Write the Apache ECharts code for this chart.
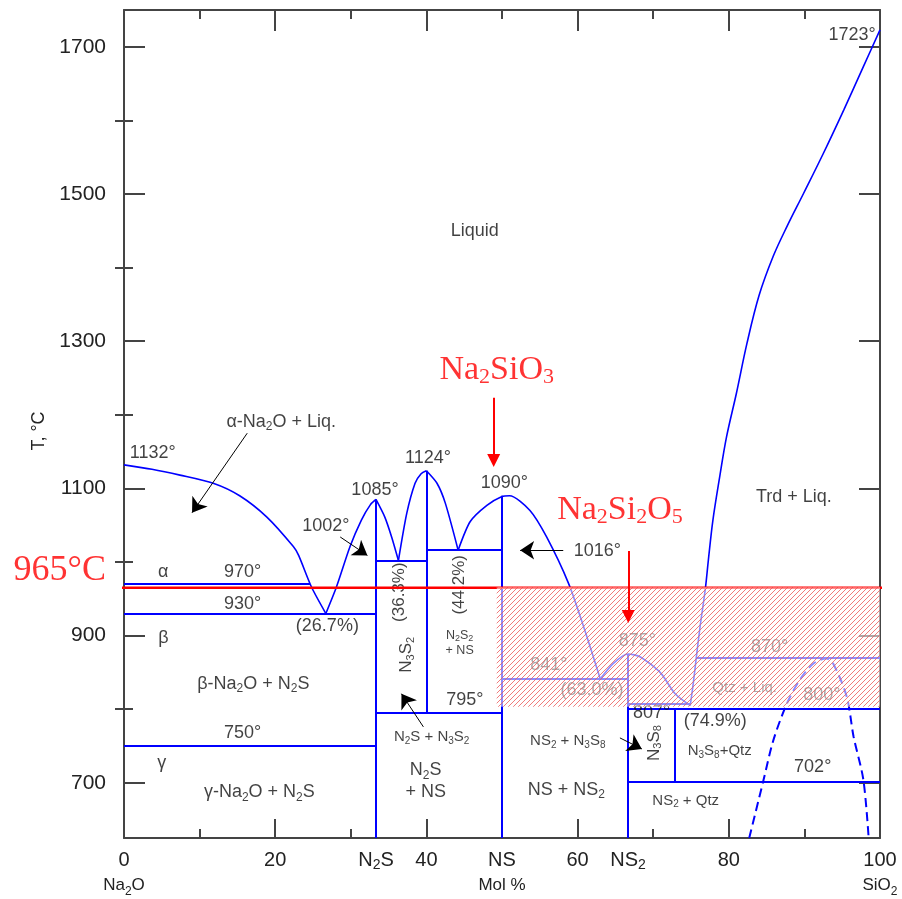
<!DOCTYPE html>
<html><head><meta charset="utf-8">
<script src="https://cdn.jsdelivr.net/npm/echarts@6/dist/echarts.min.js"></script>
<style>html,body{margin:0;padding:0;background:#fff}#c{width:902px;height:899px}</style>
</head><body><div id="c"></div>
<script>
// ---------------- data ----------------
const xTickValues = [0, 20, 33.333, 40, 50, 60, 66.667, 80, 100];
const xTickTexts = ['0\nNa_2O', '20', 'N_2S', '40', 'NS\nMol %', '60', 'NS_2', '80', '100\nSiO_2'];
const yTickValues = [700, 900, 1100, 1300, 1500, 1700];
const yMinorTickValues = [800, 1000, 1200, 1400, 1600];

const liqNa2O = [[0,1132],[3.7,1126],[7.4,1118],[11.8,1107],[15.3,1090],[18.9,1061],[22.4,1021],[23.1,1009],[24.8,966],[26.7,930]];
const liqN2Sa = [[26.7,930],[28.1,966],[29.9,1021],[31.4,1057],[32.6,1078],[33.33,1085]];
const liqN2Sb = [[33.33,1085],[34.5,1061],[35.4,1034],[36.3,1002]];
const liqN3S2a = [[36.3,1002],[37.4,1066],[38.5,1107],[39.3,1120],[40,1124]];
const liqN3S2b = [[40,1124],[41.4,1107],[42.5,1080],[44.2,1016]];
const liqNS = [[44.2,1016],[45.8,1055],[48,1077],[50,1089],[51,1090],[53.7,1070],[55.9,1034],[58.8,971],[60.8,912],[63,841]];
const liqNS2 = [[63,841],[64.7,862],[66.67,875],[68.3,871],[71,849],[72.9,821],[74.9,805]];
const liqSiO2 = [[74.9,805],[75.3,835],[75.7,870],[76.2,912],[76.9,964],[77.3,1003],[77.9,1057],[78.8,1116],[79.7,1170],[81.0,1229],[82.4,1297],[84.0,1362],[85.9,1416],[87.7,1456],[89.9,1501],[92.5,1555],[95.2,1614],[97.8,1673],[100,1723]];
const metastable = [[82.7,625],[84.6,704],[85.9,758],[87.7,808],[89.4,840],[91.2,862],[92.9,869],[93.8,862],[95.6,817],[96.5,763],[97.8,704],[98.5,625]];

const phaseLines = [
  [[0,970],[24.6,970]],
  [[0,930],[33.33,930]],
  [[0,750],[33.33,750]],
  [[33.33,1085],[33.33,625]],
  [[33.33,1002],[40,1002]],
  [[40,1124],[40,795]],
  [[40,1016],[50,1016]],
  [[33.33,795],[50,795]],
  [[50,1090],[50,625]],
  [[50,841],[66.67,841]],
  [[66.67,875],[66.67,625]],
  [[66.67,807],[74.9,807]],
  [[66.67,800],[100,800]],
  [[72.9,800],[72.9,702]],
  [[66.67,702],[100,702]],
  [[75.7,870],[100,870]]
];

const blackArrows = [
  [[16.3,1175],[9.0,1067]],
  [[28.6,1034],[32.2,1009]],
  [[58.1,1016],[52.4,1016]],
  [[39.6,776],[36.7,821]],
  [[65.6,761],[68.5,746]]
];
const redArrows = [[[48.9,1223],[48.9,1138]], [[66.7,1015],[66.7,926]]];
const redLine = [[-4.9,965],[102.9,965]];
const hatchBox = [49.3, 965.8, 100, 803.3];

const normalLabels = [
  [46.4,1450,'Liquid'], [88.6,1088,'Trd + Liq.'], [20.8,1190,'α-Na_2O + Liq.'],
  [3.8,1148,'1132°'], [33.2,1098,'1085°'], [26.7,1049,'1002°'],
  [5.2,986,'α'], [15.7,986,'970°'], [15.7,943,'930°'], [26.9,913,'(26.7%)'],
  [5.2,897,'β'], [17.1,834,'β-Na_2O + N_2S'], [15.7,768,'750°'], [5.0,727,'γ'],
  [17.9,687,'γ-Na_2O + N_2S'], [40.2,1141,'1124°'], [50.3,1107,'1090°'], [62.6,1015,'1016°'],
  [45.1,812,'795°'], [39.9,702,'N_2S\n+ NS'], [58.5,690,'NS + NS_2'],
  [56.2,860,'841°'], [61.9,826,'(63.0%)'], [67.9,893,'875°'], [85.4,884,'870°'],
  [92.3,819,'800°'], [69.8,795,'807°'], [78.2,784,'(74.9%)'], [91.1,721,'702°'], [96.3,1716,'1723°']
];
const smallLabels = [
  [40.7,762,'N_2S + N_3S_2'], [58.7,757,'NS_2 + N_3S_8'], [78.8,743,'N_3S_8+Qtz'],
  [74.3,676,'NS_2 + Qtz'], [82.1,829,'Qtz + Liq.']
];
const tinyLabels = [[44.4,890,'N_2S_2\n+ NS']];
const rotatedLabels = [[36.4,959,'(36.3%)'], [37.3,874,'N_3S_2'], [44.4,969,'(44.2%)'], [70.1,754,'N_3S_8']];
const redLabels = [[49.3,1261,'Na_2SiO_3'], [65.6,1071,'Na_2Si_2O_5']];
const tempLabels = [[-8.5,988,'965°C']];

// ---------------- helpers ----------------
const FONT = '"Liberation Sans", Arial, sans-serif';
const SERIF = '"Liberation Serif", "Times New Roman", serif';
const BLUE = '#0000ff';
const INK = '#111111';
const AXIS = '#444444';

function toRich(s, base, sub) {
  return s.split('\n').map(function (line) {
    let out = '', buf = '';
    for (let i = 0; i < line.length; i++) {
      if (line[i] === '_' && i + 1 < line.length) {
        if (buf) out += '{' + base + '|' + buf + '}';
        buf = '';
        out += '{' + sub + '|' + line[i + 1] + '}';
        i++;
      } else buf += line[i];
    }
    if (buf) out += '{' + base + '|' + buf + '}';
    return out;
  }).join('\n');
}

function richPair(size, lh, subSize, subLh, family, color) {
  return {
    t: { fontSize: size, lineHeight: lh, fontFamily: family, color: color },
    s: { fontSize: subSize, lineHeight: subLh, fontFamily: family, color: color, verticalAlign: 'bottom' }
  };
}

function labelSeries(items, rich, z, extra) {
  return {
    type: 'scatter', z: z, silent: true, symbolSize: 1, clip: false, animation: false,
    itemStyle: { color: 'rgba(0,0,0,0)' },
    data: items.map(function (it) { return { value: [it[0], it[1]], txt: toRich(it[2], 't', 's') }; }),
    label: Object.assign({
      show: true, position: 'inside', align: 'center', verticalAlign: 'middle',
      formatter: function (p) { return p.data.txt; }, rich: rich
    }, extra || {})
  };
}

function curve(data, extra) {
  return Object.assign({
    type: 'line', data: data, symbol: 'none', showSymbol: false, smooth: 0.25, z: 2,
    silent: true, animation: false, lineStyle: { color: BLUE, width: 1.6 }
  }, extra || {});
}

function xLabelFor(v) {
  let idx = 0, best = 1e9;
  xTickValues.forEach(function (t, i) { const d = Math.abs(t - v); if (d < best) { best = d; idx = i; } });
  const lines = xTickTexts[idx].split('\n');
  let out = toRich(lines[0], 'a', 'as');
  if (lines[1]) out += '\n' + toRich(lines[1], 'b', 'bs');
  return out;
}

// hatch pattern
const pc = document.createElement('canvas');
pc.width = 5; pc.height = 5;
const g = pc.getContext('2d');
g.fillStyle = 'rgba(255,255,255,0.55)';
g.fillRect(0, 0, 5, 5);
g.strokeStyle = 'rgba(238,90,90,0.8)';
g.lineWidth = 1;
g.beginPath();
g.moveTo(-1, 6); g.lineTo(6, -1);
g.moveTo(-1, 1); g.lineTo(1, -1);
g.moveTo(4, 6); g.lineTo(6, 4);
g.stroke();
const hatchFill = { image: pc, repeat: 'repeat' };

// ---------------- chart ----------------
const chart = echarts.init(document.getElementById('c'), null, { renderer: 'canvas' });
const tickStyle = { color: AXIS, width: 2 };

const yBase = { type: 'value', min: 625, max: 1750, splitLine: { show: false } };

const option = {
  backgroundColor: '#ffffff',
  animation: false,
  grid: { left: 124, right: 22, top: 10, bottom: 61, containLabel: false, outerBoundsMode: 'none' },
  xAxis: [
    {
      type: 'value', min: 0, max: 100, interval: 20, position: 'bottom',
      axisLine: { show: true, onZero: false, lineStyle: tickStyle },
      axisTick: { show: true, inside: true, length: 19, lineStyle: tickStyle },
      minorTick: { show: true, splitNumber: 2, length: 9, lineStyle: tickStyle },
      splitLine: { show: false }, minorSplitLine: { show: false },
      axisLabel: {
        show: true, customValues: xTickValues, margin: 10, formatter: xLabelFor,
        rich: {
          a: { fontSize: 20, lineHeight: 24, fontFamily: FONT, color: '#222' },
          as: { fontSize: 14, lineHeight: 14, fontFamily: FONT, color: '#222', verticalAlign: 'bottom' },
          b: { fontSize: 17, lineHeight: 26, fontFamily: FONT, color: '#222' },
          bs: { fontSize: 12, lineHeight: 18, fontFamily: FONT, color: '#222', verticalAlign: 'bottom' }
        }
      }
    },
    {
      type: 'value', min: 0, max: 100, interval: 20, position: 'top',
      axisLine: { show: true, onZero: false, lineStyle: tickStyle },
      axisTick: { show: true, inside: true, length: 21, lineStyle: tickStyle },
      minorTick: { show: true, splitNumber: 2, length: 9, lineStyle: tickStyle },
      splitLine: { show: false }, minorSplitLine: { show: false },
      axisLabel: { show: false }
    }
  ],
  yAxis: [
    Object.assign({}, yBase, {
      position: 'left', name: 'T, °C', nameLocation: 'middle', nameRotate: 90, nameGap: 74,
      nameTextStyle: { fontSize: 18, fontFamily: FONT, color: '#222', padding: [0, 14, 0, 0] },
      axisLine: { show: true, onZero: false, lineStyle: tickStyle },
      axisTick: { show: true, inside: true, length: 21, customValues: yTickValues, lineStyle: tickStyle },
      axisLabel: {
        show: true, customValues: yTickValues, margin: 18, fontSize: 21, fontFamily: FONT, color: '#222',
        formatter: function (v) { return String(Math.round(v)); }
      }
    }),
    Object.assign({}, yBase, {
      position: 'left', axisLine: { show: false },
      axisTick: { show: true, inside: true, length: 9, customValues: yMinorTickValues, lineStyle: tickStyle },
      axisLabel: { show: false }
    }),
    Object.assign({}, yBase, {
      position: 'right', axisLine: { show: true, onZero: false, lineStyle: tickStyle },
      axisTick: { show: true, inside: true, length: 21, customValues: yTickValues, lineStyle: tickStyle },
      axisLabel: { show: false }
    }),
    Object.assign({}, yBase, {
      position: 'right', axisLine: { show: false },
      axisTick: { show: true, inside: true, length: 9, customValues: yMinorTickValues, lineStyle: tickStyle },
      axisLabel: { show: false }
    })
  ],
  series: [
    curve(liqNa2O), curve(liqN2Sa), curve(liqN2Sb), curve(liqN3S2a), curve(liqN3S2b),
    curve(liqNS), curve(liqNS2), curve(liqSiO2, { smooth: 0.35 }),
    curve(metastable, { lineStyle: { color: BLUE, width: 2, type: [9, 5] }, smooth: 0.3 }),
    {
      type: 'lines', coordinateSystem: 'cartesian2d', z: 2, silent: true, animation: false,
      polyline: false, lineStyle: { color: BLUE, width: 2, opacity: 1 },
      data: phaseLines.map(function (c) { return { coords: c }; })
    },
    {
      type: 'lines', coordinateSystem: 'cartesian2d', z: 3, silent: true, animation: false,
      polyline: false, symbol: ['none', 'arrow'], symbolSize: [7, 14],
      lineStyle: { color: '#000', width: 1, opacity: 1 },
      data: blackArrows.map(function (c) { return { coords: c }; })
    },
    labelSeries(normalLabels, richPair(18, 22, 12, 12, FONT, INK), 3),
    labelSeries(smallLabels, richPair(15, 18, 10, 10, FONT, INK), 3),
    labelSeries(tinyLabels, richPair(12.5, 15, 9, 9, FONT, INK), 3),
    labelSeries(rotatedLabels, richPair(17, 20, 11, 11, FONT, INK), 3, { rotate: 90 }),
    {
      type: 'line', data: redLine, symbol: 'none', showSymbol: false, z: 5, clip: false,
      silent: true, animation: false, lineStyle: { color: '#ff0000', width: 2.5 }
    },
    {
      type: 'custom', z: 6, silent: true, clip: false, animation: false,
      data: [hatchBox], encode: { x: [0, 2], y: [1, 3] },
      renderItem: function (params, api) {
        const a = api.coord([api.value(0), api.value(1)]);
        const b = api.coord([api.value(2), api.value(3)]);
        return {
          type: 'rect',
          shape: { x: a[0], y: a[1], width: b[0] - a[0], height: b[1] - a[1] },
          style: { fill: hatchFill, stroke: null }
        };
      }
    },
    {
      type: 'lines', coordinateSystem: 'cartesian2d', z: 8, silent: true, animation: false,
      polyline: false, symbol: ['none', 'triangle'], symbolSize: [12, 13],
      lineStyle: { color: '#ff0000', width: 2, opacity: 1 },
      data: redArrows.map(function (c) { return { coords: c }; })
    },
    labelSeries(redLabels, richPair(34, 36, 22, 16, SERIF, '#ff0000'), 9),
    labelSeries(tempLabels, richPair(36, 40, 24, 18, SERIF, '#ff0000'), 9)
  ]
};
chart.setOption(option);
</script>
</body></html>
